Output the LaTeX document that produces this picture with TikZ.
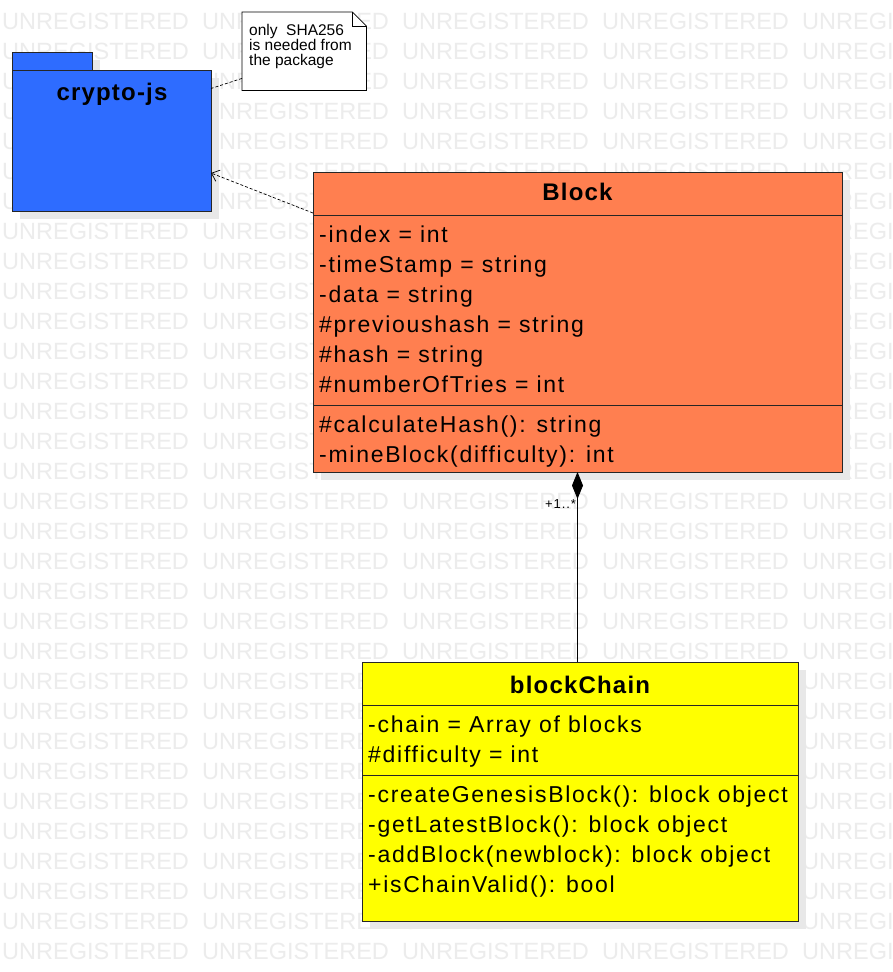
\documentclass[tikz,border=0pt]{standalone}
\usepackage{fontspec}
\setmainfont{Liberation Sans}
\newfontfamily\umlfont[LetterSpace=7.5]{Liberation Sans}
\newfontfamily\umltitle[LetterSpace=5]{Liberation Sans}
\usetikzlibrary{positioning,arrows.meta,shadows}

\definecolor{pkgblue}{HTML}{2E6CFF}
\definecolor{blockcoral}{HTML}{FF7F50}
\definecolor{chainyellow}{HTML}{FFFF00}
\definecolor{markgray}{HTML}{ECECEC}
\definecolor{shadowgray}{HTML}{E8E8E8}

\begin{document}
\begin{tikzpicture}[
		x=1pt, y=-1pt,
		watermark/.style={anchor=base west, inner sep=0pt, text=markgray, font=\fontsize{23.5}{28}\selectfont},
		umlbox/.style={draw=black!85, line width=0.9pt, inner sep=0pt, outer sep=0pt, anchor=north west,
			drop shadow={shadow xshift=8pt, shadow yshift=-8pt, fill=shadowgray, opacity=1}},
		title/.style={anchor=base, inner sep=0pt, font=\umltitle\bfseries\fontsize{24}{28}\selectfont},
		member/.style={anchor=base west, inner sep=0pt, font=\umlfont\fontsize{23}{28}\selectfont},
		notetext/.style={anchor=base west, inner sep=0pt, font=\fontsize{15.5}{15}\selectfont},
		dep/.style={densely dashed, line width=0.7pt},
	]
		\useasboundingbox (0,0) rectangle (892,972);
		\fill[white] (0,0) rectangle (892,972);
		% watermark
		\foreach \r in {0,...,31}
			\foreach \c in {0,...,4}
				\node[watermark] (wm-\r-\c) at (2+200*\c, 29+30*\r) {UNREGISTERED};

		% package
		\node[umlbox, fill=pkgblue, minimum width=80, minimum height=18] (tab) at (12,52) {};
		\node[umlbox, fill=pkgblue, minimum width=199, minimum height=141] (crypto) at (12,70) {};
		\node[title] (cryptoname) at (112,100) {crypto-js};

		% note
		\node[minimum width=124, minimum height=78, inner sep=0pt, anchor=north west] (note) at (242,12) {};
		\draw[fill=white, line width=0.8pt] (note.north west) -- ([xshift=-14pt]note.north east) -- ([yshift=-14pt]note.north east)
			-- (note.south east) -- (note.south west) -- cycle;
		\draw[line width=0.8pt] ([xshift=-14pt]note.north east) |- ([yshift=-14pt]note.north east);
		\foreach \txt [count=\i] in {only\ \ SHA256, is needed from, the package}
			\node[notetext] (noteline\i) at (249, 20+15*\i) {\txt};

		% Block
		\node[umlbox, fill=blockcoral, minimum width=529, minimum height=300] (block) at (313,172) {};
		\node[title] (blockname) at (577.5,200) {Block};
		\draw[line width=0.9pt, black!85] (313,215) -- (842,215) (313,405) -- (842,405);
		\foreach \txt [count=\i] in {-index = int, -timeStamp = string, -data = string, \#previoushash = string, \#hash = string, \#numberOfTries = int}
			\node[member] (battr\i) at (319, 212+30*\i) {\txt};
		\foreach \txt [count=\i] in {\#calculateHash(): string, -mineBlock(difficulty): int}
			\node[member] (bop\i) at (319, 402+30*\i) {\txt};

		% blockChain
		\node[umlbox, fill=chainyellow, minimum width=436, minimum height=259] (chain) at (362,662) {};
		\node[title] (chainname) at (580,693) {blockChain};
		\draw[line width=0.9pt, black!85] (362,705) -- (798,705) (362,775) -- (798,775);
		\foreach \txt [count=\i] in {-chain = Array of blocks, \#difficulty = int}
			\node[member] (cattr\i) at (368, 702+30*\i) {\txt};
		\foreach \txt [count=\i] in {-createGenesisBlock(): block object, -getLatestBlock(): block object, -addBlock(newblock): block object, +isChainValid(): bool}
			\node[member] (cop\i) at (368, 772+30*\i) {\txt};

		% connectors
		\draw[dep] ([yshift=12pt]note.south west) -- ([yshift=52pt]crypto.east);
		\draw[dep, -{Straight Barb[length=7pt, width=12pt]}] ([yshift=-41pt]block.north west) -- ([yshift=-32.5pt]crypto.east);
		\draw[line width=0.9pt, {Diamond[length=27pt, width=11pt]}-] (block.south) --
			node[pos=0.19, anchor=base east, inner sep=1pt, font=\umlfont\fontsize{13}{14}\selectfont] (mult) {+1..*}
			(block.south |- chain.north);
	\end{tikzpicture}
\end{document}
